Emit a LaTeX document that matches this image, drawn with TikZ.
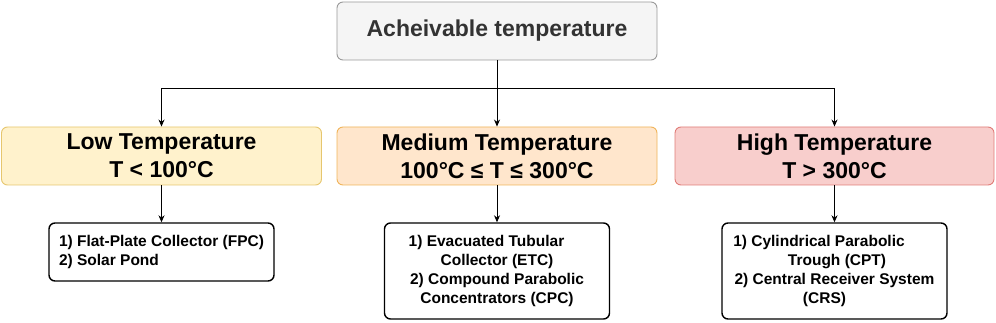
\documentclass[tikz,border=0pt]{standalone}
\usepackage{fontspec}
\setmainfont{Liberation Sans}
\usetikzlibrary{arrows.meta}
\definecolor{titlefill}{HTML}{F5F5F5}
\definecolor{titledraw}{HTML}{9A9A9A}
\definecolor{titletext}{HTML}{333333}
\definecolor{lowfill}{HTML}{FFF2CC}
\definecolor{lowdraw}{HTML}{E6C66E}
\definecolor{medfill}{HTML}{FFE6CC}
\definecolor{meddraw}{HTML}{F0B45A}
\definecolor{highfill}{HTML}{F8CECC}
\definecolor{highdraw}{HTML}{E07C78}
\tikzset{
  titlebox/.style={draw=titledraw, fill=titlefill, rounded corners=6pt, line width=0.9pt,
    minimum width=320pt, minimum height=58pt, inner sep=0pt, text=titletext,
    font=\fontsize{23}{28}\selectfont\bfseries},
  tierbox/.style={rounded corners=6pt, line width=0.9pt, minimum width=320pt,
    minimum height=58pt, inner sep=0pt, align=center,
    font=\fontsize{23}{28}\selectfont\bfseries},
  itembox/.style={draw=black, rounded corners=6pt, line width=1.4pt, minimum width=225pt,
    inner sep=0pt, font=\fontsize{15.5}{19.3}\selectfont\bfseries},
  link/.style={line width=0.8pt, -{Stealth[length=7pt,width=6pt]}}
}
\begin{document}
\begin{tikzpicture}[x=1pt,y=-1pt]
\useasboundingbox (0,0) rectangle (996,323);
\node[titlebox] (top) at (497,31) {Acheivable temperature};
\node[tierbox, draw=lowdraw, fill=lowfill] (low) at (161.5,156) {Low Temperature\\T < 100°C};
\node[tierbox, draw=meddraw, fill=medfill] (med) at (497,156) {Medium Temperature\\100°C ≤ T ≤ 300°C};
\node[tierbox, draw=highdraw, fill=highfill, minimum width=319pt] (high) at (834.5,156) {High Temperature\\T > 300°C};
\node[itembox, minimum height=58pt, align=left] (lowsub) at (161.5,252) {1) Flat-Plate Collector (FPC)\\2) Solar Pond};
\node[itembox, minimum height=96pt, align=center] (medsub) at (497,271) {1) Evacuated Tubular\hspace*{21pt}\\Collector (ETC)\\2) Compound Parabolic\\Concentrators (CPC)};
\node[itembox, minimum height=96pt, align=center] (highsub) at (834.5,271) {1) Cylindrical Parabolic\hspace*{31pt}\\\hspace*{5pt}Trough (CPT)\\2) Central Receiver System\\(CRS)\hspace*{20pt}};
\coordinate (split) at (497,88);
\draw[link] (top.south) -- (med.north);
\draw[link] (split) -| (low.north);
\draw[link] (split) -| (high.north);
\draw[link] (low.south) -- (lowsub.north);
\draw[link] (med.south) -- (medsub.north);
\draw[link] (high.south) -- (highsub.north);
\end{tikzpicture}
\end{document}
